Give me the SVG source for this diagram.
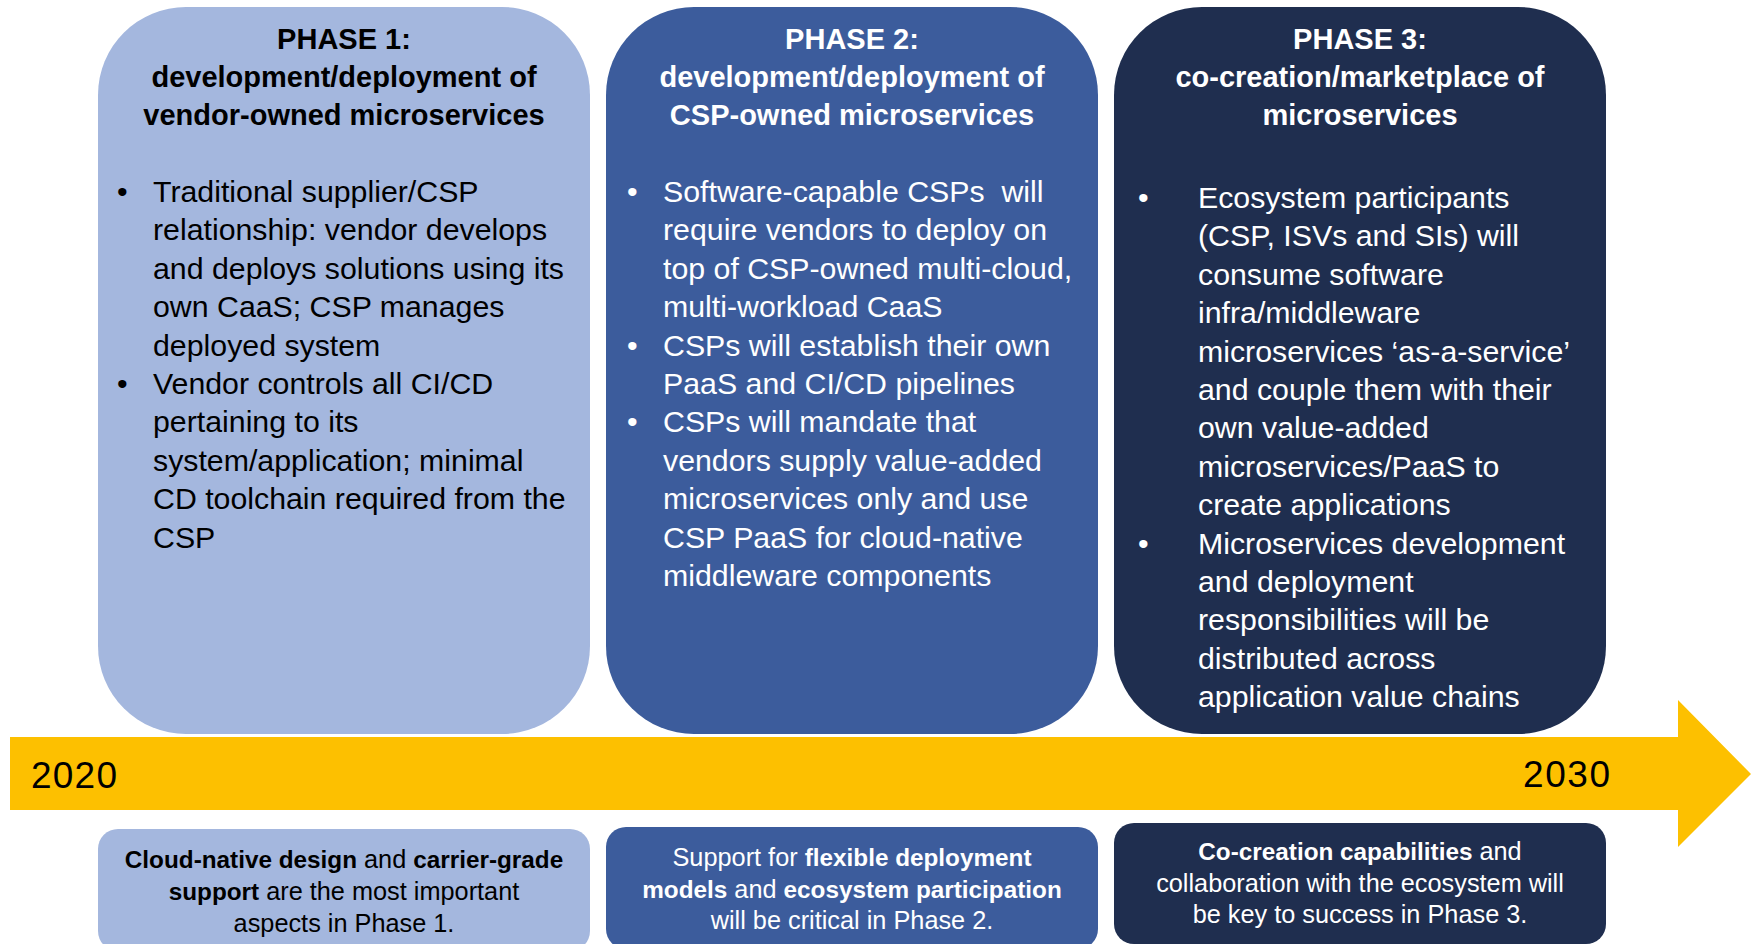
<svg xmlns="http://www.w3.org/2000/svg" width="1751" height="944" viewBox="0 0 1751 944">
<style>
.p1{fill:#A4B7DE}
.p2{fill:#3C5C9C}
.p3{fill:#1F2E4F}
.t{font-family:"Liberation Sans",Arial,sans-serif}
.title{font-size:29px;font-weight:bold;text-anchor:middle}
.body{font-size:30.3px}
.note{font-size:25.3px;text-anchor:middle}
.b{font-weight:bold;font-size:24.3px}
.dark{fill:#000}
.light{fill:#fff}
.year{font-size:37px;fill:#000}
</style>
<rect width="1751" height="944" fill="#fff"/>

<g id="timeline">
<polygon points="10,737 1678,737 1678,700 1751,774 1678,847 1678,810 10,810" fill="#FDC000"/>
<text class="t year" x="31" y="788" textLength="86">2020</text>
<text class="t year" x="1523" y="787" textLength="87">2030</text>
</g>

<g id="phase1">
<rect class="p1" x="98" y="7" width="492" height="727" rx="88" ry="88"/>
<text class="t title dark" x="344" y="49">PHASE 1:</text>
<text class="t title dark" x="344" y="87">development/deployment of</text>
<text class="t title dark" x="344" y="125">vendor-owned microservices</text>
<text class="t body dark" x="117" y="202">•</text>
<text class="t body dark" x="117" y="394">•</text>
<text class="t body dark" x="153" y="202">
<tspan x="153" y="202">Traditional supplier/CSP</tspan>
<tspan x="153" dy="38.4">relationship: vendor develops</tspan>
<tspan x="153" dy="38.4">and deploys solutions using its</tspan>
<tspan x="153" dy="38.4">own CaaS; CSP manages</tspan>
<tspan x="153" dy="38.4">deployed system</tspan>
<tspan x="153" dy="38.4">Vendor controls all CI/CD</tspan>
<tspan x="153" dy="38.4">pertaining to its</tspan>
<tspan x="153" dy="38.4">system/application; minimal</tspan>
<tspan x="153" dy="38.4">CD toolchain required from the</tspan>
<tspan x="153" dy="38.4">CSP</tspan>
</text>
</g>

<g id="phase2">
<rect class="p2" x="606" y="7" width="492" height="727" rx="88" ry="88"/>
<text class="t title light" x="852" y="49">PHASE 2:</text>
<text class="t title light" x="852" y="87">development/deployment of</text>
<text class="t title light" x="852" y="125">CSP-owned microservices</text>
<text class="t body light" x="627" y="202">•</text>
<text class="t body light" x="627" y="355.6">•</text>
<text class="t body light" x="627" y="432.4">•</text>
<text class="t body light" x="663" y="202">
<tspan x="663" y="202">Software-capable CSPs&#160; will</tspan>
<tspan x="663" dy="38.4">require vendors to deploy on</tspan>
<tspan x="663" dy="38.4">top of CSP-owned multi-cloud,</tspan>
<tspan x="663" dy="38.4">multi-workload CaaS</tspan>
<tspan x="663" dy="38.4">CSPs will establish their own</tspan>
<tspan x="663" dy="38.4">PaaS and CI/CD pipelines</tspan>
<tspan x="663" dy="38.4">CSPs will mandate that</tspan>
<tspan x="663" dy="38.4">vendors supply value-added</tspan>
<tspan x="663" dy="38.4">microservices only and use</tspan>
<tspan x="663" dy="38.4">CSP PaaS for cloud-native</tspan>
<tspan x="663" dy="38.4">middleware components</tspan>
</text>
</g>

<g id="phase3">
<rect class="p3" x="1114" y="7" width="492" height="727" rx="88" ry="88"/>
<text class="t title light" x="1360" y="49">PHASE 3:</text>
<text class="t title light" x="1360" y="87">co-creation/marketplace of</text>
<text class="t title light" x="1360" y="125">microservices</text>
<text class="t body light" x="1138" y="208">•</text>
<text class="t body light" x="1138" y="553.6">•</text>
<text class="t body light" x="1198" y="208">
<tspan x="1198" y="208">Ecosystem participants</tspan>
<tspan x="1198" dy="38.4">(CSP, ISVs and SIs) will</tspan>
<tspan x="1198" dy="38.4">consume software</tspan>
<tspan x="1198" dy="38.4">infra/middleware</tspan>
<tspan x="1198" dy="38.4">microservices ‘as-a-service’</tspan>
<tspan x="1198" dy="38.4">and couple them with their</tspan>
<tspan x="1198" dy="38.4">own value-added</tspan>
<tspan x="1198" dy="38.4">microservices/PaaS to</tspan>
<tspan x="1198" dy="38.4">create applications</tspan>
<tspan x="1198" dy="38.4">Microservices development</tspan>
<tspan x="1198" dy="38.4">and deployment</tspan>
<tspan x="1198" dy="38.4">responsibilities will be</tspan>
<tspan x="1198" dy="38.4">distributed across</tspan>
<tspan x="1198" dy="38.4">application value chains</tspan>
</text>
</g>

<g id="note1">
<rect class="p1" x="98" y="829" width="492" height="122" rx="20" ry="20"/>
<text class="t note dark" x="344" y="868"><tspan class="b">Cloud-native design</tspan> and <tspan class="b">carrier-grade</tspan></text>
<text class="t note dark" x="344" y="900"><tspan class="b">support</tspan> are the most important</text>
<text class="t note dark" x="344" y="932">aspects in Phase 1.</text>
</g>

<g id="note2">
<rect class="p2" x="606" y="827" width="492" height="122" rx="20" ry="20"/>
<text class="t note light" x="852" y="866">Support for <tspan class="b">flexible deployment</tspan></text>
<text class="t note light" x="852" y="898"><tspan class="b">models</tspan> and <tspan class="b">ecosystem participation</tspan></text>
<text class="t note light" x="852" y="929">will be critical in Phase 2.</text>
</g>

<g id="note3">
<rect class="p3" x="1114" y="823" width="492" height="121" rx="20" ry="20"/>
<text class="t note light" x="1360" y="860"><tspan class="b">Co-creation capabilities</tspan> and</text>
<text class="t note light" x="1360" y="892">collaboration with the ecosystem will</text>
<text class="t note light" x="1360" y="923">be key to success in Phase 3.</text>
</g>
</svg>
